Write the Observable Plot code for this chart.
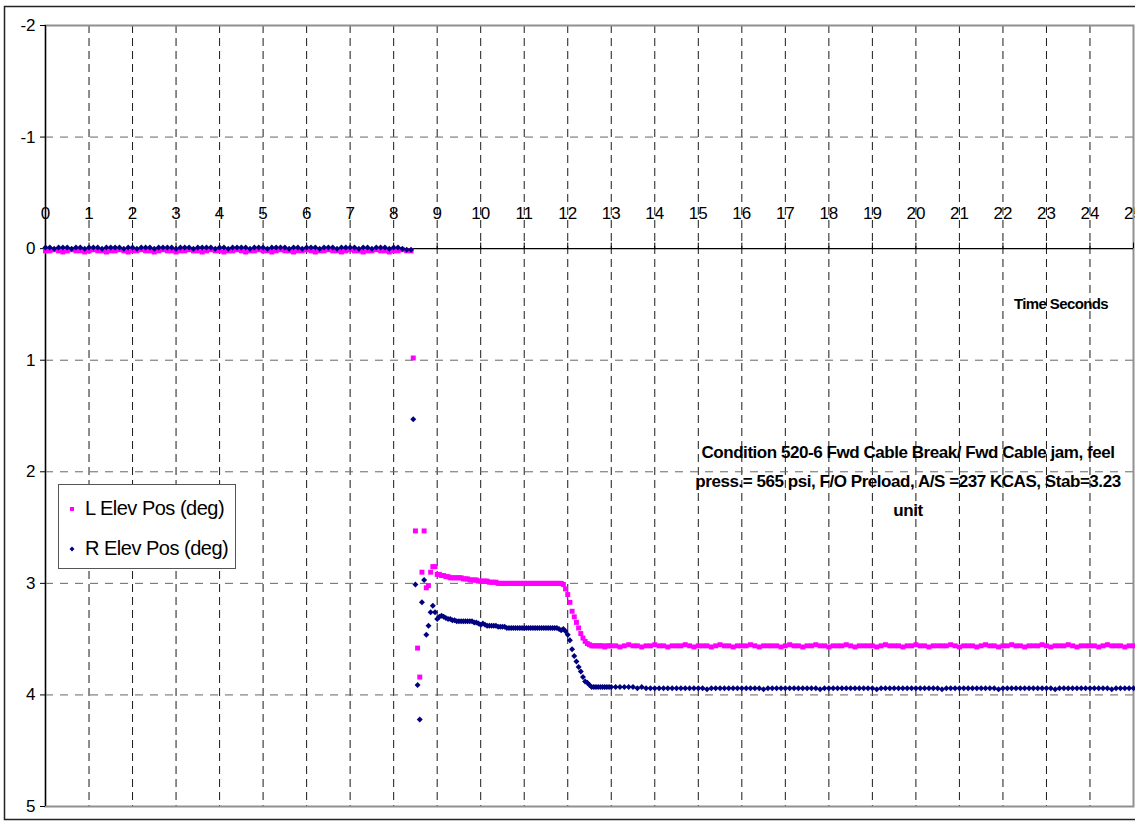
<!DOCTYPE html>
<html>
<head>
<meta charset="utf-8">
<script src="https://cdn.jsdelivr.net/npm/d3@7"></script>
<script src="https://cdn.jsdelivr.net/npm/@observablehq/plot@0.6"></script>
<style>
  body { margin: 0; background: #fff; font-family: Arial, "Liberation Sans", sans-serif; }
  #wrap { position: relative; width: 1135px; height: 822px; overflow: hidden; }
  .note { position: absolute; font-weight: bold; color: #000; white-space: nowrap; text-align: center; }
  #legend { position: absolute; left: 58px; top: 484px; width: 176px; height: 83px; border: 1px solid #555; background: #fff; }
  .lrow { position: absolute; left: 0; height: 24px; font-size: 20px; letter-spacing: -0.5px; color: #000; white-space: nowrap; }
  .mk { position: absolute; }
</style>
</head>
<body>
<div id="wrap"></div>
<script>
// ---- axis ticks ----
const xTicks = [0,1,2,3,4,5,6,7,8,9,10,11,12,13,14,15,16,17,18,19,20,21,22,23,24,25];
const xGrid = [1,2,3,4,5,6,7,8,9,10,11,12,13,14,15,16,17,18,19,20,21,22,23,24];
const yTicks = [-2,-1,0,1,2,3,4,5];
const yGrid = [-1,1,2,3,4];

// ---- series names ----
const seriesNames = ["L Elev Pos (deg)", "R Elev Pos (deg)"];

// ---- sampling: segment 1 (0.0 .. 8.3 s, every 0.1 s) ----
const seg1Start = 0.0, seg1Step = 0.1;
const lElevSeg1 = [
  0.02,0.02,0.01,0.02,0.03,0.02,0.01,0.02,0.02,0.03,
  0.02,0.01,0.02,0.02,0.03,0.02,0.02,0.01,0.02,0.03,
  0.02,0.02,0.01,0.02,0.02,0.03,0.02,0.01,0.02,0.02,
  0.03,0.02,0.02,0.01,0.02,0.02,0.03,0.02,0.01,0.02,
  0.02,0.03,0.02,0.02,0.01,0.02,0.03,0.02,0.02,0.01,
  0.02,0.02,0.03,0.02,0.01,0.02,0.02,0.03,0.02,0.02,
  0.01,0.02,0.03,0.02,0.02,0.01,0.02,0.02,0.03,0.02,
  0.01,0.02,0.02,0.03,0.02,0.02,0.01,0.02,0.02,0.03,
  0.02,0.02,0.01,0.02
];
const rElevSeg1 = [
  -0.01,-0.01,0.00,-0.01,-0.01,-0.01,0.00,-0.01,-0.01,0.00,
  -0.01,-0.01,-0.01,0.00,-0.01,-0.01,-0.01,-0.01,0.00,-0.01,
  -0.01,0.00,-0.01,-0.01,-0.01,0.00,-0.01,-0.01,-0.01,-0.01,
  0.00,-0.01,-0.01,-0.01,0.00,-0.01,-0.01,-0.01,-0.01,0.00,
  -0.01,-0.01,0.00,-0.01,-0.01,-0.01,-0.01,0.00,-0.01,-0.01,
  -0.01,0.00,-0.01,-0.01,-0.01,-0.01,0.00,-0.01,-0.01,0.00,
  -0.01,-0.01,-0.01,0.00,-0.01,-0.01,-0.01,0.00,-0.01,-0.01,
  -0.01,-0.01,0.00,-0.01,-0.01,0.00,-0.01,-0.01,-0.01,0.00,
  -0.01,-0.01,0.00,0.01
];

// ---- segment 2 (8.40 .. 12.95 s, every 0.05 s) ----
const seg2Start = 8.40, seg2Step = 0.05;
const lElevSeg2 = [
  0.02,0.98,2.53,3.58,3.84,2.90,2.53,3.04,3.02,2.90,
  2.85,2.85,2.92,2.92,2.93,2.93,2.94,2.94,2.95,2.95,
  2.95,2.95,2.95,2.95,2.96,2.96,2.96,2.97,2.97,2.97,
  2.97,2.98,2.98,2.98,2.98,2.98,2.99,2.99,2.99,2.99,
  3.00,3.00,3.00,3.00,3.00,3.00,3.00,3.00,3.00,3.00,
  3.00,3.00,3.00,3.00,3.00,3.00,3.00,3.00,3.00,3.00,
  3.00,3.00,3.00,3.00,3.00,3.00,3.00,3.00,3.00,3.00,
  3.01,3.05,3.10,3.17,3.25,3.30,3.35,3.40,3.45,3.49,
  3.52,3.54,3.55,3.56,3.56,3.56,3.56,3.56,3.56,3.57,
  3.56,3.56
];
const rElevSeg2 = [
  0.01,1.53,3.01,3.91,4.22,3.17,2.97,3.46,3.38,3.26,
  3.20,3.26,3.32,3.30,3.29,3.30,3.31,3.32,3.32,3.33,
  3.33,3.34,3.34,3.34,3.34,3.34,3.34,3.34,3.34,3.35,
  3.35,3.36,3.37,3.36,3.37,3.38,3.38,3.38,3.38,3.38,
  3.39,3.39,3.39,3.39,3.40,3.40,3.40,3.40,3.40,3.40,
  3.40,3.40,3.40,3.40,3.40,3.40,3.40,3.40,3.40,3.40,
  3.40,3.40,3.40,3.40,3.40,3.40,3.40,3.40,3.41,3.42,
  3.41,3.43,3.46,3.51,3.59,3.65,3.70,3.75,3.79,3.84,
  3.88,3.89,3.91,3.93,3.93,3.93,3.93,3.93,3.93,3.93,
  3.93,3.93
];

// ---- segment 3 (13.0 .. 25.0 s, every 0.1 s) ----
const seg3Start = 13.0, seg3Step = 0.1;
const lElevSeg3 = [
  3.56,3.56,3.57,3.56,3.55,3.56,3.56,3.57,3.56,3.56,
  3.55,3.56,3.56,3.57,3.56,3.56,3.56,3.55,3.56,3.57,
  3.56,3.56,3.56,3.57,3.56,3.55,3.56,3.56,3.57,3.56,
  3.56,3.56,3.55,3.56,3.57,3.56,3.56,3.56,3.56,3.57,
  3.56,3.55,3.56,3.56,3.57,3.56,3.56,3.55,3.56,3.56,
  3.57,3.56,3.56,3.56,3.55,3.56,3.57,3.56,3.56,3.56,
  3.56,3.57,3.56,3.55,3.56,3.56,3.56,3.57,3.56,3.56,
  3.55,3.56,3.56,3.57,3.56,3.56,3.56,3.56,3.55,3.56,
  3.57,3.56,3.56,3.56,3.57,3.56,3.55,3.56,3.56,3.57,
  3.56,3.56,3.55,3.56,3.56,3.57,3.56,3.56,3.56,3.55,
  3.56,3.57,3.56,3.56,3.56,3.55,3.56,3.57,3.56,3.56,
  3.56,3.56,3.57,3.56,3.55,3.56,3.56,3.56,3.57,3.56,
  3.56
];
const rElevSeg3 = [
  3.93,3.93,3.93,3.93,3.93,3.93,3.94,3.93,3.94,3.94,
  3.94,3.94,3.94,3.94,3.94,3.94,3.94,3.94,3.94,3.94,
  3.94,3.94,3.95,3.94,3.94,3.94,3.94,3.94,3.94,3.94,
  3.94,3.94,3.94,3.94,3.94,3.95,3.94,3.94,3.94,3.94,
  3.94,3.94,3.94,3.94,3.94,3.94,3.94,3.94,3.95,3.94,
  3.94,3.94,3.94,3.94,3.94,3.94,3.94,3.94,3.94,3.94,
  3.94,3.95,3.94,3.94,3.94,3.94,3.94,3.94,3.94,3.94,
  3.94,3.94,3.94,3.94,3.94,3.94,3.95,3.94,3.94,3.94,
  3.94,3.94,3.94,3.94,3.94,3.94,3.94,3.94,3.94,3.95,
  3.94,3.94,3.94,3.94,3.94,3.94,3.94,3.94,3.94,3.94,
  3.94,3.94,3.95,3.94,3.94,3.94,3.94,3.94,3.94,3.94,
  3.94,3.94,3.94,3.94,3.94,3.95,3.94,3.94,3.94,3.94,
  3.94
];

// ---- build sample tables (time = segment start + index * step) ----
function samples(start, step, values) {
  return values.map((v, i) => ({ t: Math.round((start + i * step) * 100) / 100, v }));
}
const lData = [
  ...samples(seg1Start, seg1Step, lElevSeg1),
  ...samples(seg2Start, seg2Step, lElevSeg2),
  ...samples(seg3Start, seg3Step, lElevSeg3)
];
const rData = [
  ...samples(seg1Start, seg1Step, rElevSeg1),
  ...samples(seg2Start, seg2Step, rElevSeg2),
  ...samples(seg3Start, seg3Step, rElevSeg3)
];

const PINK = "#ff00ff", NAVY = "#000080";
const font = "Arial, 'Liberation Sans', sans-serif";

const chart = Plot.plot({
  width: 1135,
  height: 822,
  marginLeft: 45,
  marginRight: 2,
  marginTop: 25,
  marginBottom: 16,
  style: { fontFamily: font, background: "#fff", color: "#000", overflow: "visible" },
  x: { domain: [0, 25], axis: null },
  y: { domain: [-2, 5], reverse: true, axis: null },
  marks: [
    Plot.ruleX(xGrid, { x: d => d, stroke: "#000", strokeWidth: 1, strokeDasharray: "8,5", strokeOpacity: 0.9 }),
    Plot.ruleY(yGrid, { y: d => d, stroke: "#666", strokeWidth: 1, strokeDasharray: "8,7" }),
    Plot.frame({ stroke: "#909090", strokeWidth: 2 }),
    Plot.ruleY([0], { stroke: "#000", strokeWidth: 1.2 }),
    Plot.ruleX([0], { stroke: "#000", strokeWidth: 1.2 }),
    Plot.axisY(yTicks, { tickSize: 5, tickPadding: 5, fontSize: 17, tickFormat: d => String(d), stroke: "#000", label: null }),
    Plot.ruleX(xTicks, { x: d => d, y1: 0, y2: -0.05, stroke: "#000" }),
    Plot.text(xTicks, { x: d => d, y: 0, dy: -35, text: d => String(d), fontSize: 17, fill: "#000" }),
    Plot.dot(lData, { x: "t", y: "v", symbol: "square", fill: PINK, r: 2.8, stroke: "none" }),
    Plot.dot(rData, { x: "t", y: "v", symbol: "diamond2", fill: NAVY, r: 2.7, stroke: "none" })
  ]
});

// outer chart-area border
d3.select(chart).append("rect")
  .attr("x", 4.5).attr("y", 6.5).attr("width", 1140).attr("height", 813)
  .attr("fill", "none").attr("stroke", "#222").attr("stroke-width", 1.5);

const wrap = document.getElementById("wrap");
wrap.appendChild(chart);
chart.style.position = "absolute";
chart.style.left = "0px";
chart.style.top = "0px";

// x-axis title
const xt = document.createElement("div");
xt.className = "note";
xt.style.cssText = "left:1001px;top:295px;width:120px;font-size:15px;letter-spacing:-0.6px;";
xt.textContent = "Time Seconds";
wrap.appendChild(xt);

// condition annotation
const condLines = [
  "Condition 520-6 Fwd Cable Break/ Fwd Cable jam, feel",
  "press.= 565 psi, F/O Preload, A/S =237 KCAS, Stab=3.23",
  "unit"
];
const cond = document.createElement("div");
cond.className = "note";
cond.style.cssText = "left:658px;top:438px;width:500px;font-size:17px;line-height:29px;letter-spacing:-0.45px;";
cond.innerHTML = condLines.map(s => `<div>${s}</div>`).join("");
wrap.appendChild(cond);

// legend
const lg = document.createElement("div");
lg.id = "legend";
lg.innerHTML = `
  <svg class="mk" style="left:10px;top:21px" width="6" height="6"><rect x="1" y="1" width="4" height="4" fill="${PINK}"/></svg>
  <div class="lrow" style="left:26px;top:12px">${seriesNames[0]}</div>
  <svg class="mk" style="left:10px;top:61px" width="6" height="6"><path d="M3,0.5 L5.5,3 L3,5.5 L0.5,3Z" fill="${NAVY}"/></svg>
  <div class="lrow" style="left:26px;top:52px">${seriesNames[1]}</div>`;
wrap.appendChild(lg);
</script>
</body>
</html>
